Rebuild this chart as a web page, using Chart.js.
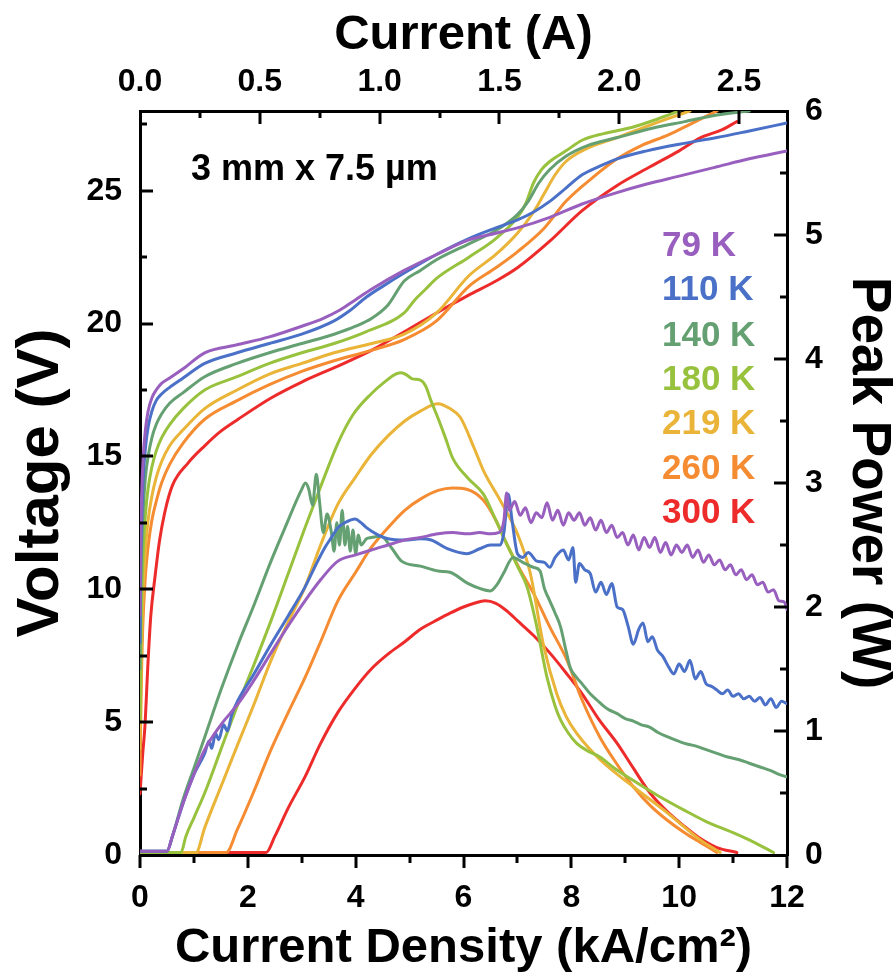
<!DOCTYPE html>
<html><head><meta charset="utf-8">
<script src="https://cdn.jsdelivr.net/npm/chart.js@4.4.1/dist/chart.umd.min.js"></script>
<style>html,body{margin:0;padding:0;background:#fff}</style>
</head><body>
<canvas id="c" width="896" height="980"></canvas>
<script>
// ---------- data ----------
const temps = ['79 K','110 K','140 K','180 K','219 K','260 K','300 K'];
const colors = ['#985fbf','#4a70c8','#65a072','#98c23e','#e9b437','#f58c32','#ee2b2b'];

// Voltage vs current density
const jV79 = [0,0.01,0.03,0.06,0.1,0.15,0.22,0.3,0.4,0.55,0.8,1.2,1.8,2.4,3.0,3.4,3.7,4.0,4.3,4.9,5.5,6.1,6.6,7.0,7.6,8.2,8.8,9.4,10.0,10.7,11.3,12];
const v79  = [9,11.5,13.5,15.0,16.0,16.7,17.2,17.5,17.75,17.95,18.3,18.9,19.2,19.5,19.9,20.2,20.5,20.9,21.3,22.0,22.6,23.15,23.4,23.6,24.0,24.5,24.9,25.25,25.55,25.9,26.2,26.5];
const jV110 = [0,0.01,0.03,0.06,0.1,0.15,0.22,0.3,0.4,0.55,0.8,1.2,1.8,2.4,3.0,3.6,3.9,4.2,4.5,4.9,5.5,6.1,6.6,7.0,7.3,7.6,7.9,8.2,8.5,8.85,9.4,10.0,10.7,11.3,12];
const v110  = [8,10.5,12.5,14.2,15.3,16.1,16.7,17.1,17.35,17.6,17.95,18.5,18.9,19.25,19.6,20.1,20.5,21.0,21.4,21.9,22.6,23.2,23.6,23.9,24.2,24.6,25.1,25.6,25.9,26.2,26.5,26.75,27.0,27.25,27.55];
const jV140 = [0,0.01,0.03,0.06,0.1,0.15,0.22,0.3,0.4,0.55,0.8,1.2,1.8,2.4,3.0,3.6,4.0,4.3,4.6,4.9,5.2,5.5,6.1,6.6,7.0,7.2,7.4,7.6,7.9,8.3,8.85,9.5,10.1,10.7,11.3];
const v140  = [7,9.5,11.5,13.0,14.2,15.0,15.7,16.2,16.6,17.0,17.4,18.0,18.5,18.9,19.25,19.6,19.9,20.2,20.7,21.6,22.0,22.4,23.0,23.5,24.1,24.6,25.3,25.8,26.3,26.7,27.0,27.35,27.6,27.85,28.0];
const jV180 = [0,0.02,0.05,0.1,0.15,0.22,0.3,0.4,0.55,0.8,1.2,1.8,2.4,3.0,3.6,4.2,4.9,5.1,5.3,5.5,6.1,6.6,7.0,7.15,7.3,7.45,7.6,7.9,8.2,8.6,9.15,9.6,10.0];
const v180  = [5,8.5,11.0,12.8,13.8,14.6,15.2,15.7,16.2,16.8,17.5,18.0,18.5,18.9,19.25,19.7,20.4,20.9,21.3,21.7,22.5,23.2,24.0,24.5,25.3,25.8,26.1,26.5,26.9,27.15,27.4,27.7,28.0];
const jV219 = [0,0.02,0.05,0.1,0.15,0.22,0.3,0.4,0.55,0.8,1.2,1.8,2.4,3.0,3.6,4.3,4.9,5.5,6.1,6.6,7.0,7.3,7.5,7.7,7.9,8.3,8.85,9.5,10.2];
const v219  = [4,7,9.5,11.5,12.6,13.5,14.2,14.8,15.4,16.0,16.8,17.5,18.1,18.5,18.9,19.25,19.6,20.4,21.8,22.6,23.4,24.2,24.9,25.6,26.1,26.6,27.0,27.5,28.0];
const jV260 = [0,0.02,0.05,0.1,0.15,0.22,0.3,0.4,0.55,0.8,1.2,1.8,2.4,3.0,3.6,4.3,4.9,5.5,6.1,6.6,7.0,7.5,7.9,8.4,8.85,9.3,9.8,10.2,10.7];
const v260  = [3,6,8.5,10.5,11.6,12.6,13.3,14.0,14.7,15.5,16.4,17.1,17.7,18.2,18.6,19.0,19.4,20.1,21.4,22.1,22.7,23.6,24.6,25.5,26.2,26.7,27.1,27.5,28.0];
const jV300 = [0,0.05,0.09,0.15,0.2,0.28,0.36,0.46,0.6,0.89,1.2,1.5,1.82,2.43,3.0,3.67,4.3,4.91,5.5,6.08,6.6,7.0,7.6,8.2,8.85,9.46,10.0,10.4,10.8,11.07];
const v300  = [2.3,3.8,4.8,7.3,9.0,10.5,11.8,12.9,13.9,14.75,15.4,15.95,16.4,17.2,17.8,18.4,19.0,19.7,20.4,21.05,21.6,22.1,23.1,24.25,25.2,25.9,26.5,27.0,27.3,27.6];

// Peak power vs current density
const jP79 = [0,0.5,0.6,0.8,1.0,1.2,1.5,1.82,2.1,2.43,2.75,3.06,3.35,3.67,4.0,4.29,4.6,4.91,5.2,5.53,5.8,6.08,6.3,6.5,6.65,6.75,6.8,6.85,6.95,7.05,7.15,7.25,7.35,7.45,7.55,7.65,7.75,7.85,7.95,8.05,8.15,8.25,8.35,8.45,8.55,8.65,8.75,8.85,8.95,9.05,9.15,9.25,9.35,9.45,9.55,9.65,9.75,9.85,9.95,10.05,10.15,10.25,10.35,10.45,10.55,10.65,10.75,10.85,10.95,11.05,11.15,11.25,11.35,11.45,11.55,11.65,11.75,11.85,11.95,12];
const p79  = [0.03,0.03,0.15,0.42,0.65,0.85,1.05,1.22,1.4,1.63,1.85,2.05,2.22,2.37,2.42,2.46,2.5,2.54,2.56,2.59,2.6,2.59,2.6,2.59,2.6,2.7,2.92,2.78,2.85,2.74,2.8,2.68,2.76,2.72,2.84,2.7,2.78,2.66,2.76,2.7,2.76,2.66,2.72,2.62,2.7,2.6,2.66,2.56,2.6,2.5,2.58,2.46,2.56,2.48,2.56,2.44,2.52,2.42,2.5,2.44,2.5,2.4,2.46,2.36,2.42,2.34,2.38,2.3,2.34,2.26,2.3,2.22,2.26,2.18,2.2,2.12,2.14,2.05,2.04,1.98];
const jP110 = [0,0.5,0.6,0.8,1.0,1.2,1.28,1.33,1.4,1.46,1.55,1.62,1.7,1.82,2.1,2.43,2.75,3.06,3.25,3.43,3.55,3.67,3.8,3.99,4.1,4.2,4.42,4.6,4.91,5.2,5.4,5.7,6.06,6.3,6.5,6.68,6.75,6.83,6.9,7.0,7.1,7.2,7.36,7.5,7.6,7.7,7.85,7.95,8.03,8.08,8.15,8.25,8.35,8.45,8.55,8.65,8.75,8.85,8.95,9.05,9.15,9.25,9.33,9.42,9.5,9.6,9.7,9.8,9.9,10.0,10.1,10.2,10.3,10.4,10.5,10.6,10.7,10.8,10.9,11.0,11.1,11.2,11.3,11.4,11.5,11.6,11.7,11.8,11.9,12];
const p110  = [0.03,0.03,0.15,0.42,0.65,0.82,0.92,0.86,0.98,0.93,1.05,1.0,1.13,1.25,1.45,1.7,1.93,2.16,2.33,2.48,2.56,2.64,2.68,2.71,2.68,2.64,2.58,2.55,2.54,2.55,2.54,2.47,2.43,2.47,2.5,2.5,2.6,2.91,2.7,2.43,2.4,2.44,2.37,2.36,2.32,2.4,2.46,2.38,2.48,2.2,2.35,2.3,2.27,2.12,2.2,2.1,2.19,2.0,1.98,1.85,1.7,1.82,1.87,1.72,1.76,1.65,1.6,1.52,1.46,1.54,1.48,1.57,1.42,1.48,1.38,1.36,1.33,1.3,1.33,1.28,1.3,1.26,1.28,1.24,1.27,1.21,1.26,1.19,1.24,1.22];
const jP140 = [0,0.5,0.6,0.8,1.0,1.2,1.5,1.82,2.1,2.43,2.7,2.99,3.07,3.13,3.2,3.27,3.33,3.4,3.47,3.55,3.6,3.65,3.7,3.75,3.8,3.85,3.9,3.95,4.0,4.05,4.1,4.2,4.29,4.47,4.66,4.85,5.2,5.53,5.75,6.08,6.3,6.5,6.62,6.74,6.92,7.1,7.3,7.42,7.5,7.6,7.7,7.8,7.9,7.98,8.1,8.2,8.35,8.5,8.6,8.7,8.85,9.0,9.15,9.3,9.46,9.6,9.8,10.1,10.3,10.5,10.7,10.9,11.1,11.3,11.5,11.7,11.85,12];
const p140  = [0.03,0.03,0.15,0.45,0.7,0.95,1.33,1.7,2.0,2.37,2.65,2.94,3.0,2.95,2.82,3.07,2.85,2.6,2.75,2.6,2.45,2.68,2.5,2.78,2.5,2.65,2.45,2.62,2.43,2.58,2.5,2.55,2.56,2.57,2.48,2.37,2.33,2.29,2.28,2.19,2.15,2.13,2.18,2.27,2.4,2.36,2.32,2.29,2.15,2.05,1.95,1.84,1.65,1.51,1.43,1.38,1.3,1.24,1.2,1.17,1.14,1.1,1.08,1.05,1.03,0.99,0.95,0.9,0.88,0.85,0.82,0.79,0.77,0.74,0.71,0.68,0.65,0.63];
const jP180 = [0,0.76,0.85,1.0,1.2,1.5,1.82,2.1,2.43,2.75,3.06,3.35,3.67,3.95,4.29,4.55,4.75,4.85,4.95,5.05,5.2,5.3,5.4,5.53,5.66,5.8,6.08,6.37,6.6,6.8,7.0,7.18,7.36,7.55,7.7,7.8,7.95,8.1,8.3,8.53,8.8,9.15,9.6,10.1,10.5,11.0,11.4,11.75];
const p180  = [0.02,0.02,0.15,0.3,0.5,0.85,1.22,1.52,1.89,2.27,2.64,2.97,3.32,3.55,3.72,3.82,3.88,3.89,3.87,3.84,3.83,3.78,3.66,3.52,3.37,3.2,3.04,2.91,2.7,2.51,2.33,2.16,1.84,1.43,1.2,1.09,0.98,0.9,0.84,0.79,0.7,0.6,0.48,0.36,0.27,0.18,0.1,0.02];
const jP219 = [0,1.04,1.2,1.5,1.82,2.1,2.43,2.75,3.06,3.35,3.67,4.0,4.29,4.6,4.91,5.2,5.53,5.75,5.94,6.19,6.37,6.68,7.0,7.24,7.48,7.73,7.9,8.1,8.53,9.15,9.78,10.4,10.76];
const p219  = [0.02,0.02,0.22,0.55,0.9,1.2,1.57,1.88,2.16,2.5,2.83,3.05,3.23,3.38,3.5,3.58,3.64,3.6,3.53,3.29,3.1,2.86,2.59,2.27,1.7,1.3,1.12,0.98,0.77,0.55,0.34,0.12,0.02];
const jP260 = [0,1.6,1.8,2.1,2.43,2.75,3.06,3.35,3.67,4.0,4.29,4.6,4.91,5.2,5.53,5.8,6.06,6.37,6.6,6.8,7.05,7.3,7.6,7.92,8.2,8.53,8.85,9.15,9.46,9.78,10.1,10.4,10.7];
const p260  = [0.02,0.02,0.2,0.5,0.85,1.15,1.43,1.72,2.05,2.28,2.48,2.64,2.78,2.87,2.94,2.96,2.95,2.86,2.7,2.51,2.3,2.11,1.84,1.57,1.25,0.95,0.73,0.55,0.4,0.28,0.18,0.1,0.02];
const jP300 = [0,2.34,2.5,2.75,3.06,3.35,3.67,4.0,4.29,4.6,4.91,5.2,5.53,5.75,6.0,6.2,6.4,6.6,6.8,7.0,7.3,7.6,7.9,8.2,8.5,8.85,9.15,9.46,9.78,10.1,10.4,10.7,11.07];
const p300  = [0.02,0.02,0.15,0.38,0.63,0.9,1.15,1.35,1.5,1.62,1.72,1.82,1.9,1.95,2.0,2.03,2.05,2.03,1.97,1.89,1.77,1.63,1.47,1.3,1.1,0.9,0.7,0.5,0.35,0.23,0.13,0.06,0.02];

// axes
const xTicks = [0,2,4,6,8,10,12];
const xMinor = [1,3,5,7,9,11];
const x2Ticks = [0,0.5,1.0,1.5,2.0,2.5];
const x2Minor = [0.25,0.75,1.25,1.75,2.25];
const yTicks = [0,5,10,15,20,25];
const yMinor = [2.5,7.5,12.5,17.5,22.5,27.5];
const y2Ticks = [0,1,2,3,4,5,6];
const y2Minor = [0.5,1.5,2.5,3.5,4.5,5.5];
const areaCm2 = 0.3 * 7.5e-4; // 3 mm x 7.5 um
const ampPerKA = 1000 * areaCm2;

const jV = [jV79,jV110,jV140,jV180,jV219,jV260,jV300];
const vV = [v79,v110,v140,v180,v219,v260,v300];
const jP = [jP79,jP110,jP140,jP180,jP219,jP260,jP300];
const pP = [p79,p110,p140,p180,p219,p260,p300];

const pts = (xs, ys) => xs.map((x, i) => ({x: x, y: ys[i]}));
const datasets = [];
const lineStyle = {borderWidth: 3, pointRadius: 0, cubicInterpolationMode: 'monotone', borderJoinStyle: 'round', borderCapStyle: 'round'};
temps.forEach((t, i) => {
  datasets.push(Object.assign({label: t + ' V', data: pts(jV[i], vV[i]), borderColor: colors[i], xAxisID: 'x', yAxisID: 'y'}, lineStyle));
});
temps.forEach((t, i) => {
  datasets.push(Object.assign({label: t + ' P', data: pts(jP[i], pP[i]), borderColor: colors[i], xAxisID: 'x', yAxisID: 'y2'}, lineStyle));
});

const FONT = "'Liberation Sans', Arial, Helvetica, sans-serif";
const setTicks = arr => (s) => { s.ticks = arr.map(v => ({value: v})); };

const decor = {
  id: 'decor',
  afterDraw(chart) {
    const {ctx, chartArea: a, scales} = chart;
    ctx.save();
    ctx.strokeStyle = '#000';
    ctx.lineWidth = 3;
    const MAJ = 13, MIN = 7;
    const hTick = (sc, vals, len, y, dir) => vals.forEach(v => {
      const px = Math.round(sc.getPixelForValue(v));
      ctx.beginPath(); ctx.moveTo(px, y); ctx.lineTo(px, y + dir * len); ctx.stroke();
    });
    const vTick = (sc, vals, len, x, dir) => vals.forEach(v => {
      const py = Math.round(sc.getPixelForValue(v));
      ctx.beginPath(); ctx.moveTo(x, py); ctx.lineTo(x + dir * len, py); ctx.stroke();
    });
    hTick(scales.x, xTicks, MAJ, a.bottom, 1);
    hTick(scales.x, xMinor, MIN + 1, a.bottom, 1);
    hTick(scales.x2, x2Ticks.filter(v => v > 0), MAJ, a.top, 1);
    hTick(scales.x2, x2Minor, MIN, a.top, 1);
    vTick(scales.y, yTicks.filter(v => v > 0), MAJ, a.left, 1);
    vTick(scales.y, yMinor, MIN, a.left, 1);
    vTick(scales.y2, y2Ticks.filter(v => v > 0 && v < 6), MAJ, a.right, -1);
    vTick(scales.y2, y2Minor, MIN, a.right, -1);

    ctx.textBaseline = 'alphabetic';
    ctx.textAlign = 'left';
    ctx.fillStyle = '#000';
    ctx.font = 'bold 36px ' + FONT;
    ctx.fillText('3 mm x 7.5 \u00b5m', a.left + 51, 180);
    ctx.font = 'bold 35px ' + FONT;
    const base = [256, 300, 346, 390, 434, 479, 523];
    temps.forEach((t, i) => {
      ctx.fillStyle = colors[i];
      ctx.fillText(t, 662, base[i]);
    });
    ctx.restore();
  }
};

const tickFont = {family: FONT, size: 32, weight: 'bold'};
const hTitleFont = {family: FONT, size: 49, weight: 'bold'};
const vTitleFontL = {family: FONT, size: 60, weight: 'bold', lineHeight: 1.0};
const vTitleFontR = {family: FONT, size: 55, weight: 'bold', lineHeight: 1.0};

new Chart(document.getElementById('c'), {
  type: 'line',
  data: {datasets: datasets},
  options: {
    responsive: false,
    animation: false,
    devicePixelRatio: 1,
    layout: {padding: 0},
    plugins: {legend: {display: false}, tooltip: {enabled: false}},
    scales: {
      x: {
        type: 'linear', position: 'bottom', min: 0, max: 12,
        afterBuildTicks: setTicks(xTicks),
        afterFit: s => { s.height = 125; },
        grid: {display: false, drawTicks: false},
        border: {display: true, color: '#000', width: 3},
        ticks: {color: '#000', font: tickFont, padding: 24, maxRotation: 0, callback: v => String(v)},
        title: {display: true, text: 'Current Density (kA/cm\u00b2)', color: '#000', font: hTitleFont, padding: {top: 0, bottom: 2}}
      },
      x2: {
        type: 'linear', position: 'top', min: 0, max: 12 * ampPerKA,
        afterBuildTicks: setTicks(x2Ticks),
        afterFit: s => { s.height = 111; },
        grid: {display: false, drawTicks: false},
        border: {display: true, color: '#000', width: 3},
        ticks: {color: '#000', font: tickFont, padding: 10, maxRotation: 0, callback: v => v.toFixed(1)},
        title: {display: true, text: 'Current (A)', color: '#000', font: hTitleFont, padding: {top: 6, bottom: 0}}
      },
      y: {
        type: 'linear', position: 'left', min: 0, max: 28,
        afterBuildTicks: setTicks(yTicks),
        afterFit: s => { s.width = 140; },
        grid: {display: false, drawTicks: false},
        border: {display: true, color: '#000', width: 3},
        ticks: {color: '#000', font: tickFont, padding: 18, callback: v => String(v)},
        title: {display: true, text: 'Voltage (V)', color: '#000', font: vTitleFontL, padding: {top: 11, bottom: 0}}
      },
      y2: {
        type: 'linear', position: 'right', min: 0, max: 6,
        afterBuildTicks: setTicks(y2Ticks),
        afterFit: s => { s.width = 109; },
        grid: {display: false, drawTicks: false},
        border: {display: true, color: '#000', width: 3},
        ticks: {color: '#000', font: tickFont, padding: 18, callback: v => String(v)},
        title: {display: true, text: 'Peak Power (W)', color: '#000', font: vTitleFontR, padding: {top: 0, bottom: 0}}
      }
    }
  },
  plugins: [decor]
});
</script>
</body></html>
